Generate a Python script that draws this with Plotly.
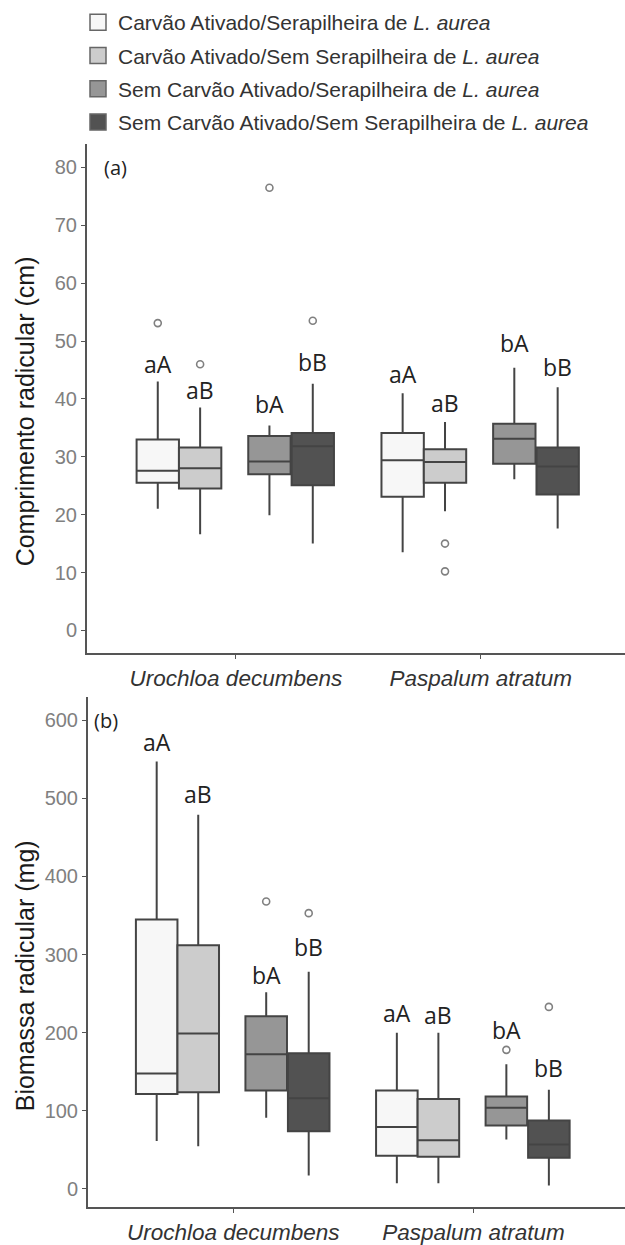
import plotly.graph_objects as go

# ---------------- data ----------------
species = ["Urochloa decumbens", "Paspalum atratum"]
treatments = [
    "Carvão Ativado/Serapilheira de <i>L. aurea</i>",
    "Carvão Ativado/Sem Serapilheira de <i>L. aurea</i>",
    "Sem Carvão Ativado/Serapilheira de <i>L. aurea</i>",
    "Sem Carvão Ativado/Sem Serapilheira de <i>L. aurea</i>",
]
colors = ["#F7F7F7", "#CCCCCC", "#969696", "#525252"]

# Panel (a) Comprimento radicular (cm): [species][treatment]
a_low = [[21.0, 16.6, 19.9, 15.0], [13.5, 20.6, 26.1, 17.6]]
a_q1 = [[25.5, 24.5, 27.0, 25.1], [23.1, 25.5, 28.8, 23.5]]
a_med = [[27.6, 28.0, 29.2, 31.8], [29.4, 29.1, 33.1, 28.3]]
a_q3 = [[33.0, 31.6, 33.6, 34.1], [34.1, 31.3, 35.7, 31.6]]
a_up = [[43.0, 38.5, 35.4, 42.6], [41.0, 36.0, 45.4, 42.0]]
a_out = [[[53.1], [46.0], [76.5], [53.5]], [[], [15.0, 10.2], [], []]]
a_letters = [["aA", "aB", "bA", "bB"], ["aA", "aB", "bA", "bB"]]
a_letter_y = [[46.0, 41.6, 39.2, 46.4], [44.3, 39.3, 49.7, 45.5]]

# Panel (b) Biomassa radicular (mg)
b_low = [[61.4, 54.6, 91.0, 17.0], [7.2, 7.2, 63.1, 4.2]]
b_q1 = [[121.6, 123.7, 125.8, 73.7], [42.3, 41.0, 81.3, 39.8]]
b_med = [[147.8, 199.0, 172.4, 116.0], [79.2, 62.3, 103.8, 56.8]]
b_q3 = [[345.0, 312.0, 221.0, 173.7], [125.8, 115.2, 118.2, 87.7]]
b_up = [[547.0, 479.0, 251.6, 278.0], [200.0, 200.0, 159.7, 127.0]]
b_out = [[[], [], [368.0], [353.0]], [[], [], [178.0], [233.0]]]
b_letters = [["aA", "aB", "bA", "bB"], ["aA", "aB", "bA", "bB"]]
b_letter_y = [[572.0, 505.0, 274.0, 310.0], [225.0, 223.0, 204.0, 154.6]]

# ---------------- layout constants ----------------
offsets = [-0.319, -0.146, 0.137, 0.314]
box_w = 0.173
W, H = 625, 1245
FONT = "Liberation Sans, Arial, sans-serif"

fig = go.Figure()

panels = [
    ("x", "y", a_low, a_q1, a_med, a_q3, a_up, a_out, a_letters, a_letter_y),
    ("x2", "y2", b_low, b_q1, b_med, b_q3, b_up, b_out, b_letters, b_letter_y),
]

for pi, (xa, ya, lo, q1, md, q3, up, outs, lets, lety) in enumerate(panels):
    for si in range(len(species)):
        for ti in range(len(treatments)):
            pos = si + 1 + offsets[ti]
            fig.add_trace(go.Box(
                x=[pos], q1=[q1[si][ti]], median=[md[si][ti]], q3=[q3[si][ti]],
                lowerfence=[lo[si][ti]], upperfence=[up[si][ti]],
                width=box_w, fillcolor=colors[ti], whiskerwidth=0,
                line=dict(color="#444444", width=2),
                boxpoints=False, showlegend=False, hoverinfo="skip",
                xaxis=xa, yaxis=ya,
            ))
            if outs[si][ti]:
                fig.add_trace(go.Scatter(
                    x=[pos] * len(outs[si][ti]), y=outs[si][ti], mode="markers",
                    marker=dict(symbol="circle-open", size=7, color="#808080",
                                line=dict(width=1.6)),
                    showlegend=False, hoverinfo="skip", xaxis=xa, yaxis=ya,
                ))
            fig.add_annotation(
                x=pos, y=lety[si][ti], xref=xa, yref=ya, text=lets[si][ti],
                showarrow=False, font=dict(family="Open Sans", size=23, color="#222222"),
            )

# legend entries
for ti in range(len(treatments)):
    fig.add_trace(go.Scatter(
        x=[None], y=[None], mode="markers", name=treatments[ti],
        legendgroup=f"g{ti}",
        marker=dict(symbol="square", size=20, color=colors[ti],
                    line=dict(color="#666666", width=1.5)),
    ))

tick_text = [f"<i>{s}</i>" for s in species]
common_x = dict(
    tickvals=[1, 2], ticktext=tick_text, showline=True, linecolor="#555555",
    linewidth=2, ticks="outside", ticklen=4, tickcolor="#555555",
    tickfont=dict(family=FONT, size=22.5, color="#333333"),
    showgrid=False, zeroline=False, fixedrange=True,
)
common_y = dict(
    showline=True, linecolor="#555555", linewidth=2, ticks="outside",
    ticklen=4, tickcolor="#555555",
    tickfont=dict(family=FONT, size=20, color="#808080"),
    showgrid=False, zeroline=False,
)

fig.update_layout(
    width=W, height=H, margin=dict(l=0, r=0, t=0, b=0),
    paper_bgcolor="white", plot_bgcolor="white",
    xaxis=dict(domain=[87 / W, 1], range=[0.392, 2.589], anchor="y", **common_x),
    yaxis=dict(domain=[1 - 659 / H, 1 - 145 / H], range=[-3.94, 84.1],
               tickvals=list(range(0, 81, 10)), anchor="x", **common_y),
    xaxis2=dict(domain=[88 / W, 1], range=[0.395, 2.631], anchor="y2", **common_x),
    yaxis2=dict(domain=[1 - 1218 / H, 1 - 703 / H], range=[-23.5, 630],
                tickvals=list(range(0, 601, 100)), anchor="x2", **common_y),
    showlegend=True,
    legend=dict(x=78 / W, y=1 - 2 / H, xanchor="left", yanchor="top",
                font=dict(family=FONT, size=21, color="#333333"),
                tracegroupgap=3, traceorder="grouped", bgcolor="rgba(0,0,0,0)",
                itemsizing="trace"),
)

# panel tags and axis titles
fig.add_annotation(x=0.455, y=80, xref="x", yref="y", text="(a)", showarrow=False,
                   xanchor="left", font=dict(family="Open Sans", size=20, color="#222222"))
fig.add_annotation(x=0.412, y=600, xref="x2", yref="y2", text="(b)", showarrow=False,
                   xanchor="left", font=dict(family="Open Sans", size=20, color="#222222"))
fig.add_annotation(x=25 / W, y=1 - 415 / H, xref="paper", yref="paper",
                   xanchor="center", yanchor="middle",
                   text="Comprimento radicular (cm)", textangle=-90, showarrow=False,
                   font=dict(family=FONT, size=25, color="#1a1a1a"))
fig.add_annotation(x=25 / W, y=1 - 985 / H, xref="paper", yref="paper",
                   xanchor="center", yanchor="middle",
                   text="Biomassa radicular (mg)", textangle=-90, showarrow=False,
                   font=dict(family=FONT, size=25, color="#1a1a1a"))

fig.write_html("out.html", config={"displayModeBar": False},
               post_script="document.body.style.margin='0';")
